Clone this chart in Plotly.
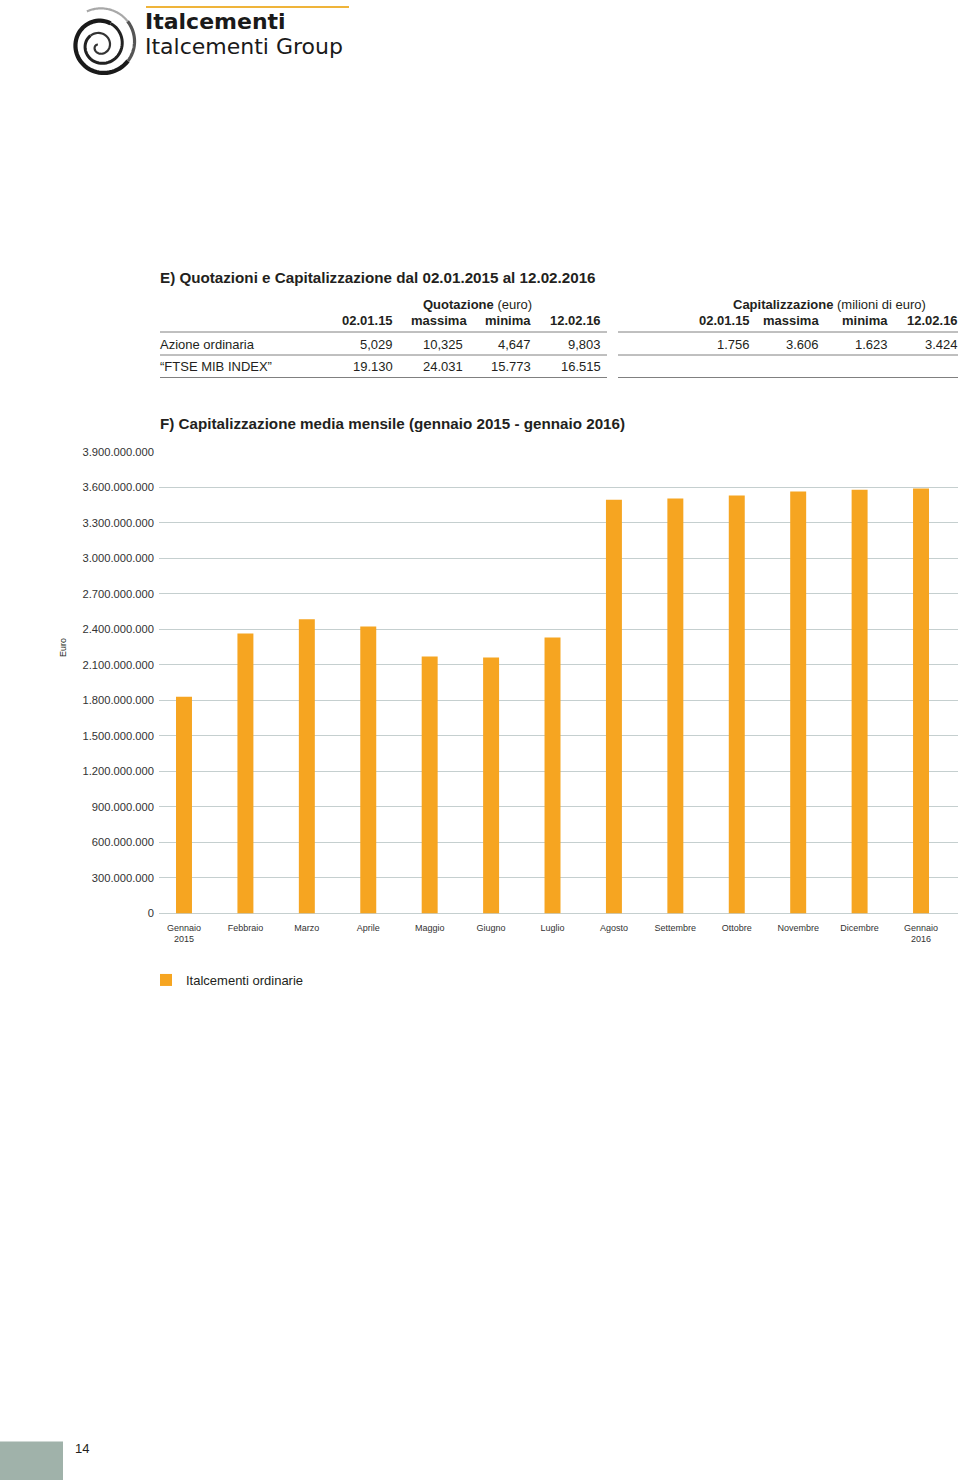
import math
import plotly.graph_objects as go

W, H = 960, 1480

# ---------------- data ----------------
months = ["Gennaio<br>2015", "Febbraio", "Marzo", "Aprile", "Maggio", "Giugno", "Luglio",
          "Agosto", "Settembre", "Ottobre", "Novembre", "Dicembre", "Gennaio<br>2016"]
cap_media = [1.831e9, 2.364e9, 2.484e9, 2.424e9, 2.170e9, 2.161e9, 2.331e9,
             3.495e9, 3.504e9, 3.530e9, 3.563e9, 3.579e9, 3.590e9]
y_ticks = [0, 3e8, 6e8, 9e8, 1.2e9, 1.5e9, 1.8e9, 2.1e9, 2.4e9, 2.7e9, 3.0e9, 3.3e9, 3.6e9, 3.9e9]
y_ticktext = ["{:,}".format(int(v)).replace(",", ".") for v in y_ticks]

quot_cols = ["02.01.15", "massima", "minima", "12.02.16"]
azione_quot = ["5,029", "10,325", "4,647", "9,803"]
ftse_quot = ["19.130", "24.031", "15.773", "16.515"]
azione_cap = ["1.756", "3.606", "1.623", "3.424"]

FONT = "Liberation Sans, Arial, Helvetica, sans-serif"
LOGO_FONT = "DejaVu Sans, Verdana, sans-serif"
TXT = "#231f20"
ORANGE = "#F6A521"
GRID = "#c5cfcf"


def px(x):
    return x / W


def py(y):
    return 1 - y / H


fig = go.Figure()
fig.add_trace(go.Bar(
    x=months, y=cap_media, name="Italcementi ordinarie",
    marker=dict(color=ORANGE, line=dict(width=0)), width=0.26,
))

annotations = []
shapes = []


def text(x, y, s, size=13, anchor="left", color=TXT, bold=False, angle=0, family=FONT):
    if bold:
        s = "<b>" + s + "</b>"
    annotations.append(dict(x=px(x), y=py(y), xref="paper", yref="paper", text=s,
                            showarrow=False, xanchor=anchor, yanchor="middle",
                            textangle=angle, borderpad=0, borderwidth=0,
                            font=dict(size=size, color=color, family=family)))


def hline(x0, x1, y, color="#808080", width=1):
    shapes.append(dict(type="line", xref="paper", yref="paper", x0=px(x0), x1=px(x1),
                       y0=py(y), y1=py(y), line=dict(color=color, width=width)))


# ---------------- logo ----------------
hline(146, 349, 7, color="#EFB43A", width=2)
text(145, 21.2, "Italcementi", size=22, bold=True, color="#1a1a1a", family=LOGO_FONT)
text(145, 46.9, "Italcementi Group", size=22, color="#1a1a1a", family=LOGO_FONT)
# spiral (decorative logo drawing)
S = 6.0 * math.pi
theta0 = math.radians(243) + S
segments = [(0.0, 0.35, 2.2, "#333333"), (0.35, 0.62, 3.0, "#222222"),
            (0.62, 0.86, 4.2, "#1a1a1a"), (0.86, 0.93, 3.2, "#555555"),
            (0.93, 1.0, 2.2, "#a8a8a8")]
for f0, f1, lw, col in segments:
    pts = []
    n = 50
    for i in range(n + 1):
        f = f0 + (f1 - f0) * i / n
        s = f * S
        r = 2.5 + 1.75 * s
        ang = theta0 - s
        cx = 99 + 4 * f
        cy = 47 - 4 * f
        pts.append((px(cx + r * math.cos(ang)), py(cy + r * math.sin(ang))))
    path = "M " + " L ".join("{:.5f},{:.5f}".format(a, b) for a, b in pts)
    shapes.append(dict(type="path", xref="paper", yref="paper", path=path,
                       line=dict(color=col, width=lw)))

# ---------------- table E ----------------
text(160, 278, "E) Quotazioni e Capitalizzazione dal 02.01.2015 al 12.02.2016", size=15.2, bold=True)
text(532, 304, "<b>Quotazione</b> (euro)", size=13, anchor="right")
text(829, 304, "<b>Capitalizzazione</b> (milioni di euro)", size=13, anchor="center")

left_right_edges = [393, 467, 531, 601]
left_data_edges = [393, 463, 531, 601]
right_edges = [750, 819, 888, 958]
right_data_edges = [750, 819, 888, 958]
for i, c in enumerate(quot_cols):
    text(left_right_edges[i], 321, c, size=13, anchor="right", bold=True)
    text(right_edges[i], 321, c, size=13, anchor="right", bold=True)
    text(left_data_edges[i], 344, azione_quot[i], size=13, anchor="right")
    text(left_data_edges[i], 366, ftse_quot[i], size=13, anchor="right")
    text(right_data_edges[i], 344, azione_cap[i], size=13, anchor="right")
text(160, 344, "Azione ordinaria", size=13)
text(160, 366, "\u201cFTSE MIB INDEX\u201d", size=13)
for yy in (332, 355, 377.5):
    hline(160, 607, yy)
    hline(618, 958, yy)

# ---------------- chart F ----------------
text(160, 424, "F) Capitalizzazione media mensile (gennaio 2015 - gennaio 2016)", size=15.2, bold=True)
text(63, 648, "Euro", size=9, anchor="center", angle=-90)

# page number
shapes.append(dict(type="rect", xref="paper", yref="paper", x0=0, x1=px(63), y0=0, y1=py(1441.5),
                   fillcolor="#a0b2aa", line=dict(width=0)))
text(75, 1448, "14", size=13)

fig.update_layout(
    width=W, height=H, autosize=False,
    margin=dict(l=0, r=0, t=0, b=0, pad=0, autoexpand=False),
    paper_bgcolor="white", plot_bgcolor="white",
    font=dict(family=FONT, color=TXT),
    xaxis=dict(domain=[px(159), px(958)], type="category", categoryorder="array",
               categoryarray=months, range=[-0.407, 12.602],
               showgrid=False, showline=False, zeroline=False, ticks="",
               ticklabelstandoff=7, automargin=False,
               tickfont=dict(size=9, color="#333333", family=FONT), tickangle=0),
    yaxis=dict(domain=[py(913.5), py(451.7)], range=[0, 3.9e9],
               tickvals=y_ticks, ticktext=y_ticktext,
               tickfont=dict(size=11.2, color="#333333", family=FONT),
               showgrid=True, gridcolor=GRID, gridwidth=1,
               zeroline=True, zerolinecolor=GRID, zerolinewidth=1,
               showline=False, ticks="", ticklabelstandoff=4, automargin=False),
    showlegend=True,
    legend=dict(x=px(146), y=py(965), xanchor="left", yanchor="top",
                font=dict(size=13, color=TXT, family=FONT),
                bgcolor="rgba(0,0,0,0)", borderwidth=0),
    annotations=annotations,
    shapes=shapes,
)

fig.write_html("out.html",
               post_script="document.body.style.margin='0px';document.body.style.overflow='hidden';")
